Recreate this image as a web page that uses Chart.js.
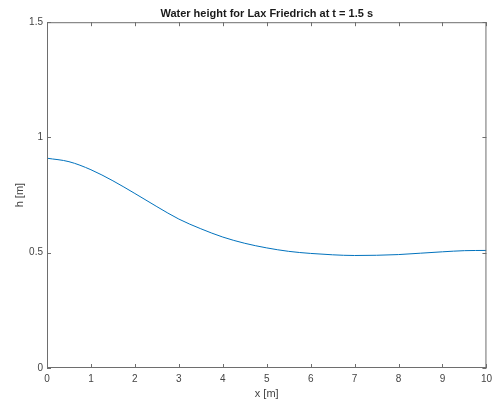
<!DOCTYPE html>
<html>
<head>
<meta charset="utf-8">
<script src="https://cdn.jsdelivr.net/npm/chart.js@4.4.1/dist/chart.umd.min.js"></script>
<style>
  html, body { margin: 0; padding: 0; background: #fff; }
  #wrap { width: 497px; height: 406px; }
</style>
</head>
<body>
<div id="wrap"><canvas id="waterChart"></canvas></div>
<script>
// water height, x in metres
const xPos = [0, 0.5, 1, 1.5, 2, 2.5, 3, 3.5, 4, 4.5, 5, 5.5, 6, 6.5, 7, 7.5, 8, 8.5, 9, 9.5, 10];
const hVals = [0.910, 0.895, 0.860, 0.812, 0.757, 0.700, 0.646, 0.604, 0.568, 0.541, 0.521, 0.506, 0.497, 0.491, 0.488, 0.489, 0.492, 0.498, 0.504, 0.509, 0.510];
const xTicks = [0, 1, 2, 3, 4, 5, 6, 7, 8, 9, 10];
const yTicks = [0, 0.5, 1, 1.5];

const axisGrey = '#6e6e6e';
const textGrey = '#444444';

// MATLAB style: ticks pointing into the box on all four sides
const innerTicks = {
  id: 'innerTicks',
  afterDraw(chart) {
    const { ctx, chartArea: a, scales } = chart;
    const len = 4;
    ctx.save();
    ctx.strokeStyle = axisGrey;
    ctx.lineWidth = 1;
    ctx.beginPath();
    xTicks.forEach(v => {
      const px = Math.round(scales.x.getPixelForValue(v)) + 0.5;
      ctx.moveTo(px, a.bottom); ctx.lineTo(px, a.bottom - len);
      ctx.moveTo(px, a.top); ctx.lineTo(px, a.top + len);
    });
    yTicks.forEach(v => {
      const py = Math.round(scales.y.getPixelForValue(v)) + 0.5;
      ctx.moveTo(a.left, py); ctx.lineTo(a.left + len, py);
      ctx.moveTo(a.right, py); ctx.lineTo(a.right - len, py);
    });
    ctx.stroke();
    ctx.strokeRect(a.left + 0.5, a.top + 0.5, a.right - a.left - 1, a.bottom - a.top - 1);
    ctx.restore();
  }
};

new Chart(document.getElementById('waterChart'), {
  type: 'line',
  data: {
    datasets: [{
      data: xPos.map((x, i) => ({ x: x, y: hVals[i] })),
      borderColor: '#0072bd', borderWidth: 1,
      pointRadius: 0, fill: false, tension: 0.4, cubicInterpolationMode: 'monotone'
    }]
  },
  options: {
    responsive: true, maintainAspectRatio: false, animation: false,
    layout: { padding: { left: 0, right: 10, top: 0, bottom: 0 } },
    plugins: {
      legend: { display: false },
      tooltip: { enabled: false },
      title: {
        display: true, fullSize: false,
        text: 'Water height for Lax Friedrich at t = 1.5 s',
        color: '#1a1a1a',
        font: { family: 'Liberation Sans, Arial, sans-serif', size: 11, weight: 'bold' },
        padding: { top: 7, bottom: 2 }
      }
    },
    scales: {
      x: {
        type: 'linear', min: 0, max: 10,
        afterBuildTicks: s => { s.ticks = xTicks.map(v => ({ value: v })); },
        afterFit: s => { s.height = 38; },
        grid: { display: false, drawTicks: false },
        border: { display: false },
        ticks: {
          color: textGrey, padding: 5, maxRotation: 0,
          callback: v => String(v),
          font: { family: 'Liberation Sans, Arial, sans-serif', size: 10 }
        },
        title: {
          display: true, text: 'x [m]', color: textGrey,
          font: { family: 'Liberation Sans, Arial, sans-serif', size: 11 },
          padding: { top: 3, bottom: 5 }
        }
      },
      y: {
        type: 'linear', min: 0, max: 1.5,
        afterBuildTicks: s => { s.ticks = yTicks.map(v => ({ value: v })); },
        afterFit: s => { s.width = 47; },
        grid: { display: false, drawTicks: false },
        border: { display: false },
        ticks: {
          color: textGrey, padding: 4,
          callback: v => String(v),
          font: { family: 'Liberation Sans, Arial, sans-serif', size: 10 }
        },
        title: {
          display: true, text: 'h [m]', color: textGrey,
          font: { family: 'Liberation Sans, Arial, sans-serif', size: 11 },
          padding: { top: 13, bottom: 0 }
        }
      }
    }
  },
  plugins: [innerTicks]
});
</script>
</body>
</html>
